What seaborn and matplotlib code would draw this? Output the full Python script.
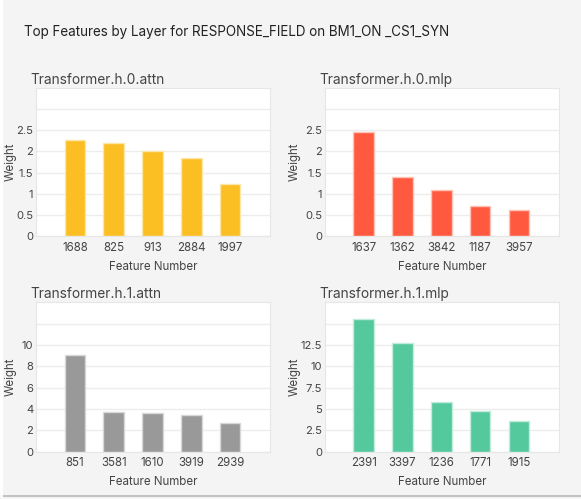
import seaborn as sns
import matplotlib.pyplot as plt
from matplotlib.lines import Line2D
import numpy as np

# data per layer
titles = ['Transformer.h.0.attn', 'Transformer.h.0.mlp', 'Transformer.h.1.attn', 'Transformer.h.1.mlp']
features_h0_attn = ['1688', '825', '913', '2884', '1997']
weights_h0_attn = [2.26, 2.20, 2.00, 1.84, 1.235]
features_h0_mlp = ['1637', '1362', '3842', '1187', '3957']
weights_h0_mlp = [2.45, 1.40, 1.08, 0.71, 0.62]
features_h1_attn = ['851', '3581', '1610', '3919', '2939']
weights_h1_attn = [9.03, 3.67, 3.66, 3.45, 2.73]
features_h1_mlp = ['2391', '3397', '1236', '1771', '1915']
weights_h1_mlp = [15.6, 12.74, 5.76, 4.82, 3.53]

colors = ['#fbbf24', '#ff5a40', '#999999', '#55c99e']
edges = ['#fde7a8', '#ffc2b6', '#d8d8d8', '#c2ecdc']
yticks = [np.arange(0, 3.01, 0.5), np.arange(0, 3.01, 0.5), np.arange(0, 12.1, 2), np.arange(0, 15.1, 2.5)]
ylims = [3.5, 3.5, 14, 17.5]
shown_max = [2.5, 2.5, 10, 12.5]
ylabel_x = [-0.082, -0.102, -0.082, -0.102]

sns.set_theme(style='white')
plt.rcParams['font.family'] = ['Inter', 'DejaVu Sans']

fig = plt.figure(figsize=(5.81, 4.99), dpi=100, facecolor='#f4f4f4')
positions = [[0.062, 0.527, 0.403, 0.297], [0.559, 0.527, 0.403, 0.297],
             [0.062, 0.095, 0.403, 0.299], [0.559, 0.095, 0.403, 0.299]]
data = [(features_h0_attn, weights_h0_attn), (features_h0_mlp, weights_h0_mlp),
        (features_h1_attn, weights_h1_attn), (features_h1_mlp, weights_h1_mlp)]

for i, (feats, w) in enumerate(data):
    ax = fig.add_axes(positions[i])
    ax.set_facecolor('white')
    sns.barplot(x=feats, y=w, order=feats, color=colors[i], width=0.53,
                edgecolor=edges[i], linewidth=1, saturation=1, ax=ax)
    ax.set_xlim(-1, 5.03)
    ax.set_ylim(0, ylims[i])
    ax.set_yticks(yticks[i])
    ax.set_yticklabels([('%g' % t) if t <= shown_max[i] else '' for t in yticks[i]])
    ax.yaxis.grid(True, color='#ededed', linewidth=1)
    ax.set_axisbelow(True)
    for s in ax.spines.values():
        s.set_color('#e6e6e6')
        s.set_linewidth(0.8)
    ax.tick_params(axis='x', length=0, labelsize=8.3, colors='#444444', pad=4)
    ax.tick_params(axis='y', length=0, labelsize=8.1, colors='#444444', pad=2)
    ax.set_xlabel('Feature Number', fontsize=8.3, color='#444444', labelpad=5)
    ax.set_ylabel('Weight', fontsize=8.3, color='#444444')
    ax.yaxis.set_label_coords(ylabel_x[i], 0.5)
    ax.set_title(titles[i], loc='left', x=-0.025, pad=3, fontsize=9.9, color='#444444')

fig.text(0.041, 0.928, 'Top Features by Layer for RESPONSE_FIELD on BM1_ON _CS1_SYN',
         fontsize=9.7, color='#222222')
fig.add_artist(Line2D([0, 1], [0.006, 0.006], color='#b8b8b8', linewidth=1.2))
fig.add_artist(Line2D([0.002, 0.002], [0.006, 1], color='white', linewidth=2))

plt.savefig('out.png', dpi=100, facecolor=fig.get_facecolor())
